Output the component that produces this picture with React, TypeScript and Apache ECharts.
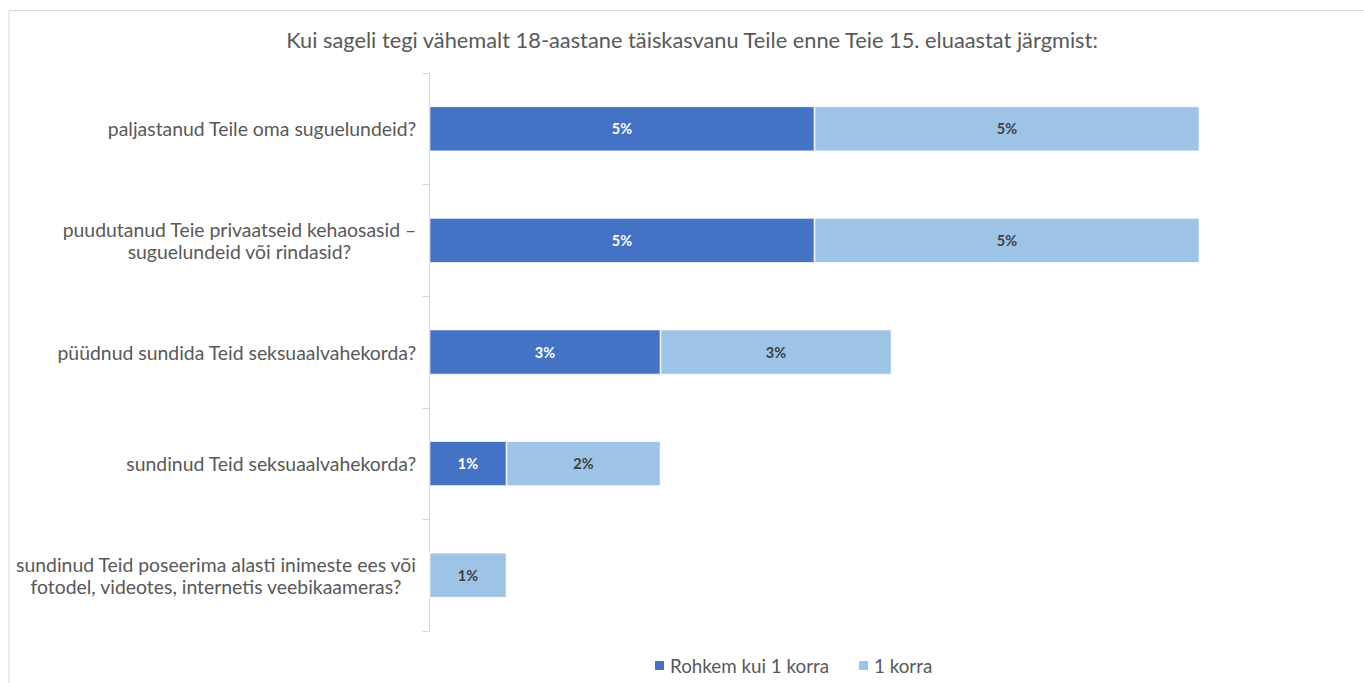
import React, { useEffect, useRef } from "react";
import * as echarts from "echarts";

const TITLE = "Kui sageli tegi vähemalt 18-aastane täiskasvanu Teile enne Teie 15. eluaastat järgmist:";

const categories: string[] = [
  "paljastanud Teile oma suguelundeid?",
  "puudutanud Teie privaatseid kehaosasid –\nsuguelundeid või rindasid?",
  "püüdnud sundida Teid seksuaalvahekorda?",
  "sundinud Teid seksuaalvahekorda?",
  "sundinud Teid poseerima alasti inimeste ees või\nfotodel, videotes, internetis veebikaameras?",
];

const seriesNames: string[] = ["Rohkem kui 1 korra", "1 korra"];
const moreThanOnce: number[] = [5, 5, 3, 1, 0];
const once: number[] = [5, 5, 3, 2, 1];

const FONT = "Lato";
const GRAY = "#595959";

export default function App() {
  const ref = useRef<HTMLDivElement>(null);
  useEffect(() => {
    if (!ref.current) return;
    const chart = echarts.init(ref.current, undefined, { renderer: "svg" });
    const labelFmt = (p: any) => (p.value ? `${p.value}%` : "");
    chart.setOption({
      animation: false,
      backgroundColor: "#fff",
      textStyle: { fontFamily: FONT },
      title: {
        text: TITLE,
        left: 692,
        top: 28,
        padding: 0,
        textAlign: "center",
        textStyle: { fontFamily: FONT, fontSize: 21.8, fontWeight: "normal", color: GRAY },
      },
      graphic: [
        {
          type: "rect",
          shape: { x: 9, y: 10.5, width: 1400, height: 720 },
          style: { fill: "none", stroke: "#D9D9D9", lineWidth: 1 },
          silent: true,
        },
      ],
      legend: {
        left: 653,
        top: 656,
        padding: 0,
        icon: "rect",
        itemWidth: 11,
        itemHeight: 11,
        itemGap: 28,
        textStyle: { fontFamily: FONT, fontSize: 18.8, color: GRAY, padding: [0, 0, 0, 0] },
        data: seriesNames,
      },
      grid: { left: 429.5, right: 10.5, top: 73, bottom: 52, containLabel: false },
      xAxis: { type: "value", min: 0, max: 12, show: false },
      yAxis: {
        type: "category",
        inverse: true,
        data: categories,
        axisLine: { show: true, lineStyle: { color: "#D9D9D9", width: 1 } },
        axisTick: { show: true, length: 7, lineStyle: { color: "#D9D9D9" } },
        axisLabel: {
          margin: 13,
          formatter: (v: string) => v.split("\n").map((l) => `{c|${l}}`).join("\n"),
          rich: {
            c: { align: "center", fontFamily: FONT, fontSize: 19.4, color: GRAY, lineHeight: 22 },
          },
        },
      },
      series: [
        {
          name: seriesNames[0],
          type: "bar",
          stack: "total",
          barWidth: 45,
          data: moreThanOnce,
          itemStyle: { color: "#4472C4", borderColor: "#fff", borderWidth: 0.75 },
          label: {
            show: true,
            position: "inside",
            formatter: labelFmt,
            color: "#fff",
            fontFamily: FONT,
            fontWeight: "bold",
            fontSize: 14.5,
          },
        },
        {
          name: seriesNames[1],
          type: "bar",
          stack: "total",
          barWidth: 45,
          data: once,
          itemStyle: { color: "#9DC3E6", borderColor: "#fff", borderWidth: 0.75 },
          label: {
            show: true,
            position: "inside",
            formatter: labelFmt,
            color: "#404040",
            fontFamily: FONT,
            fontWeight: "bold",
            fontSize: 14.5,
          },
        },
      ],
    });
    return () => chart.dispose();
  }, []);
  return (
    <div
      ref={ref}
      style={{ position: "fixed", left: 0, top: 0, width: 1364, height: 683 }}
    />
  );
}
